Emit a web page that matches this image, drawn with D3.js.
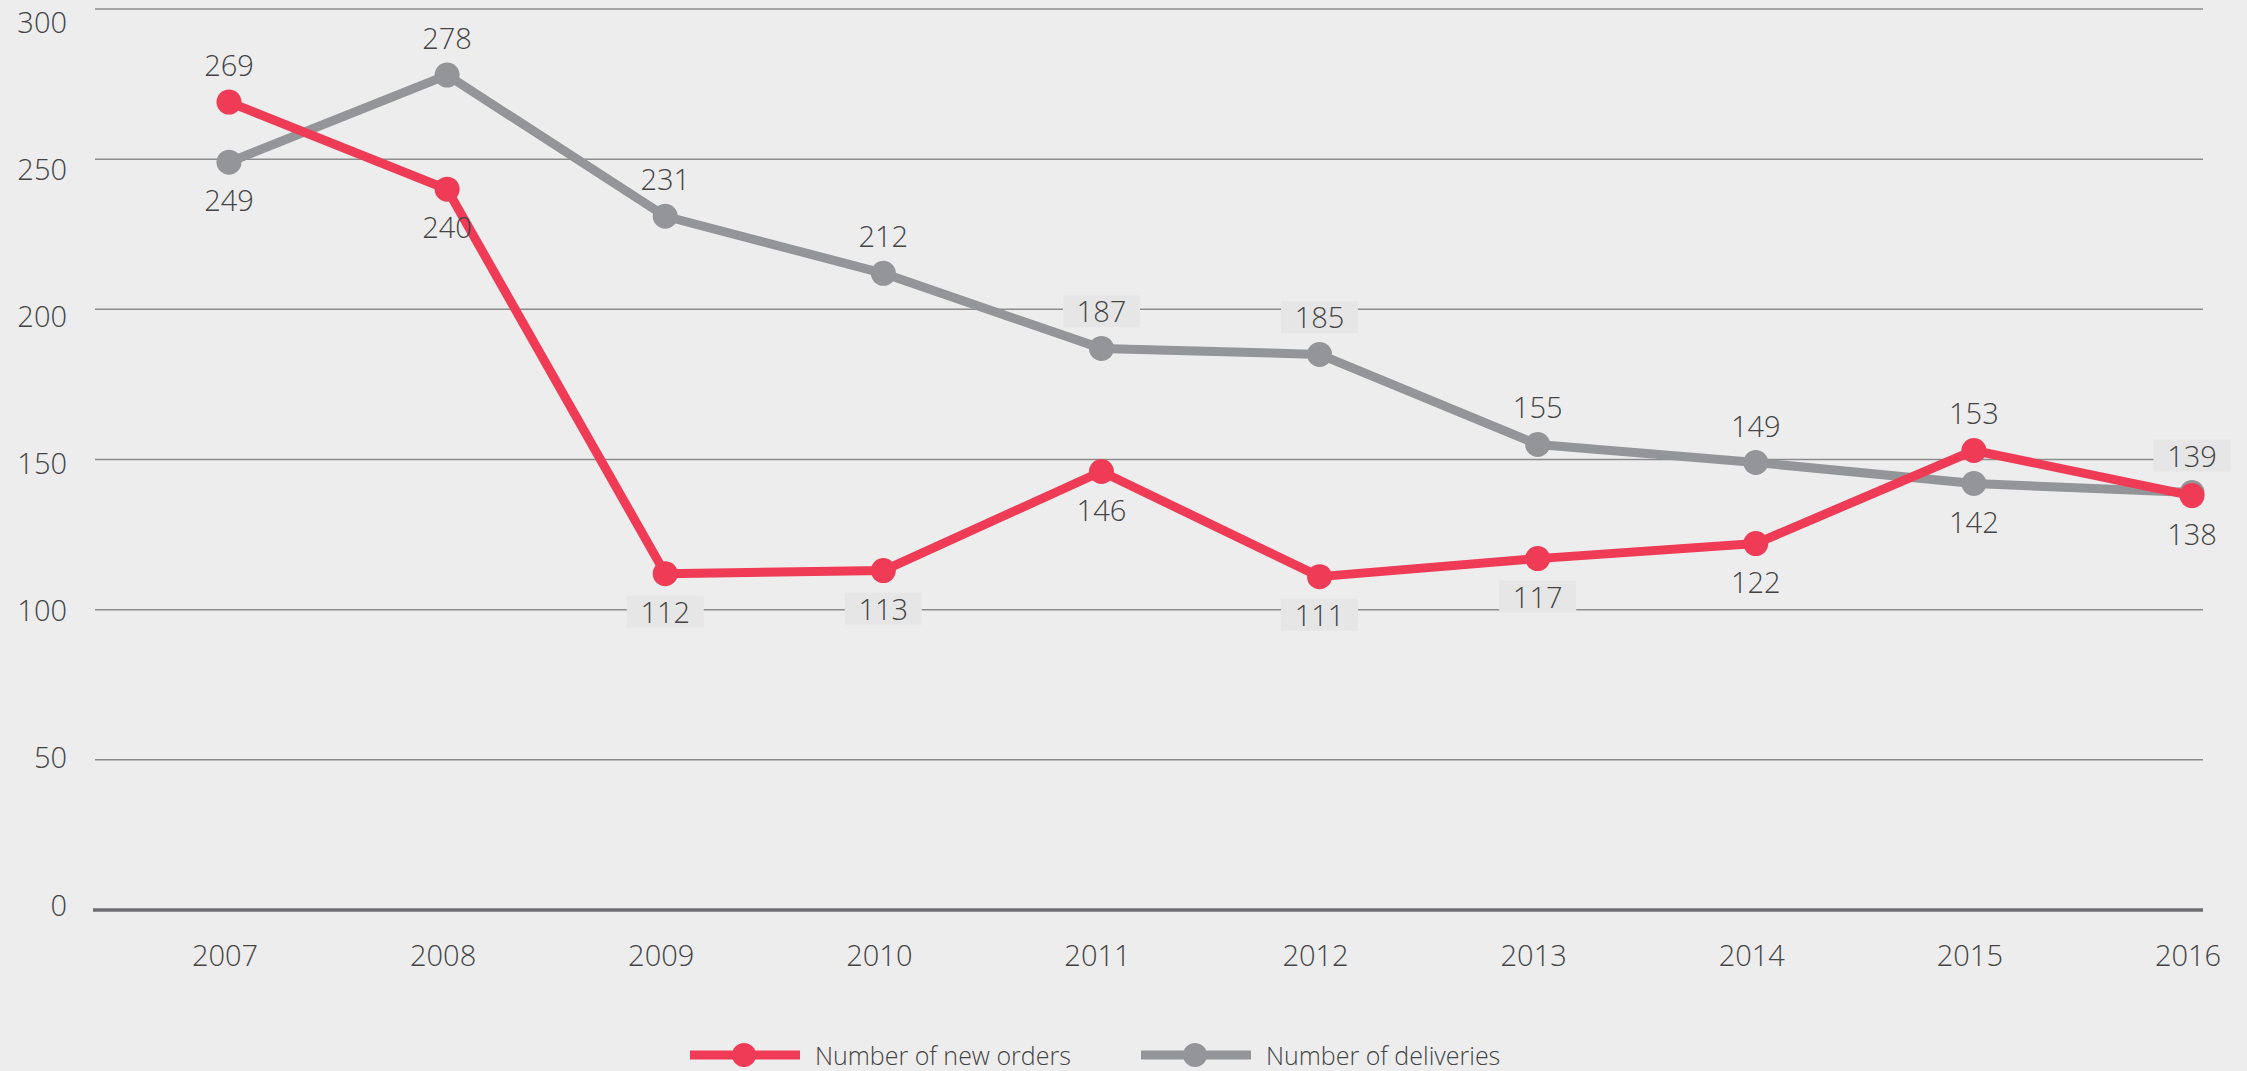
<!DOCTYPE html>
<html>
<head>
<meta charset="utf-8">
<script src="https://cdn.jsdelivr.net/npm/d3@7"></script>
<style>
  html, body { margin: 0; padding: 0; background: #ededed; }
  svg { display: block; }
  text { font-family: "Open Sans", "Noto Sans", sans-serif; fill: #444; }
</style>
</head>
<body>
<svg id="chart" width="2247" height="1071"></svg>
<script>
const years = ["2007","2008","2009","2010","2011","2012","2013","2014","2015","2016"];
const newOrders = [269, 240, 112, 113, 146, 111, 117, 122, 153, 138];
const deliveries = [249, 278, 231, 212, 187, 185, 155, 149, 142, 139];
const yTicks = [0, 50, 100, 150, 200, 250, 300];
const seriesNames = ["Number of new orders", "Number of deliveries"];
// label side: 1 = above, -1 = below
const ordersLabelSide = [1, -1, -1, -1, -1, -1, -1, -1, 1, -1];
const deliveriesLabelSide = [-1, 1, 1, 1, 1, 1, 1, 1, -1, 1];

const W = 2247, H = 1071;
const RED = "#ef3b56", GREY = "#949599";

const svg = d3.select("#chart");
svg.append("rect").attr("width", W).attr("height", H).attr("fill", "#ededed");

const x = d3.scalePoint().domain(years).range([229, 2192]);
const y = d3.scaleLinear().domain([0, 300]).range([910, 9]);
// tick labels sit slightly offset from their gridlines in the reference
const yLabel = d3.scaleLinear().domain([0, 300]).range([904, 21]);

// gridlines
const grid = svg.append("g");
grid.selectAll("line").data(yTicks.filter(d => d > 0)).join("line")
  .attr("x1", 95).attr("x2", 2203)
  .attr("y1", d => y(d)).attr("y2", d => y(d))
  .attr("stroke", "#8c8c8c").attr("stroke-width", 1.5);

// y labels
svg.append("g").selectAll("text").data(yTicks).join("text")
  .attr("x", 67).attr("y", d => yLabel(d))
  .attr("text-anchor", "end").attr("dominant-baseline", "central")
  .attr("font-size", 29).attr("font-weight", 300)
  .text(d => d);

// x labels
svg.append("g").selectAll("text").data(years).join("text")
  .attr("x", d => x(d) - 4).attr("y", 954)
  .attr("text-anchor", "middle").attr("dominant-baseline", "central")
  .attr("font-size", 29).attr("font-weight", 300)
  .text(d => d);

const line = d3.line().x((d, i) => x(years[i])).y(d => y(d));

function drawSeries(vals, color) {
  const g = svg.append("g");
  g.append("path").datum(vals).attr("d", line)
    .attr("fill", "none").attr("stroke", color).attr("stroke-width", 9)
    .attr("stroke-linejoin", "round");
  g.selectAll("circle").data(vals).join("circle")
    .attr("cx", (d, i) => x(years[i])).attr("cy", d => y(d)).attr("r", 12.5)
    .attr("fill", color);
}
drawSeries(deliveries, GREY);
drawSeries(newOrders, RED);

// baseline
svg.append("line").attr("x1", 93).attr("x2", 2203)
  .attr("y1", y(0)).attr("y2", y(0))
  .attr("stroke", "#6e6e71").attr("stroke-width", 3.5);

// value labels
const labelsG = svg.append("g");
function drawLabels(vals, sides) {
  vals.forEach((v, i) => {
    const cx = x(years[i]), cy = y(v);
    const baseline = sides[i] > 0 ? cy - 26 : cy + 49;
    const top = baseline - 21, bottom = baseline;
    const g = labelsG.append("g");
    const crosses = yTicks.some(t => t > 0 && y(t) >= top - 6 && y(t) <= bottom + 5);
    if (crosses) {
      g.append("rect").attr("x", cx - 38.5).attr("width", 77)
        .attr("y", top - 6).attr("height", 32).attr("fill", "#e6e6e6");
    }
    g.append("text").attr("x", cx).attr("y", baseline)
      .attr("text-anchor", "middle").attr("font-size", 29).attr("font-weight", 300)
      .text(v);
  });
}
drawLabels(newOrders, ordersLabelSide);
drawLabels(deliveries, deliveriesLabelSide);

// legend
const legend = svg.append("g");
const legendItems = [
  {name: seriesNames[0], color: RED, x0: 690},
  {name: seriesNames[1], color: GREY, x0: 1141}
];
const ly = 1055;
legendItems.forEach(it => {
  legend.append("line").attr("x1", it.x0).attr("x2", it.x0 + 110)
    .attr("y1", ly).attr("y2", ly).attr("stroke", it.color).attr("stroke-width", 9);
  legend.append("circle").attr("cx", it.x0 + 54).attr("cy", ly).attr("r", 12).attr("fill", it.color);
  legend.append("text").attr("x", it.x0 + 125).attr("y", ly)
    .attr("dominant-baseline", "central").attr("font-size", 25).attr("font-weight", 300)
    .text(it.name);
});
</script>
</body>
</html>
